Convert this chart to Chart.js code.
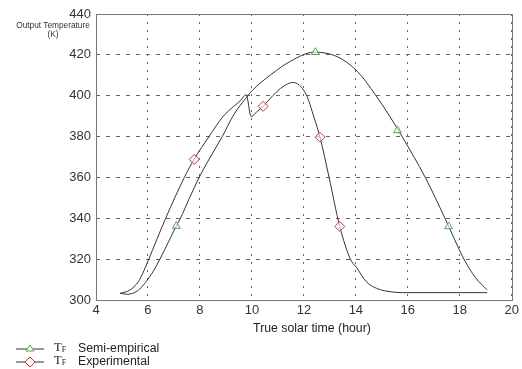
<!DOCTYPE html>
<html>
<head>
<meta charset="utf-8">
<script src="https://cdn.jsdelivr.net/npm/chart.js@4.4.0/dist/chart.umd.min.js"></script>
<style>
  body { margin: 0; background: #fff; }
  #wrap { position: relative; width: 522px; height: 369px; font-family: "Liberation Sans", Arial, sans-serif; }
  #yTitle { position: absolute; left: 8px; top: 21px; width: 90px; text-align: center; font-size: 8.3px; line-height: 9px; color: #333; }
  #xTitle { position: absolute; left: 200px; top: 321px; width: 224px; text-align: center; font-size: 12.3px; color: #222; }
  #legend { position: absolute; left: 16px; top: 341px; font-size: 12.3px; color: #222; }
  .row { height: 13px; display: flex; align-items: center; }
  .tf { font-family: "Liberation Serif", "DejaVu Serif", serif; font-size: 12.5px; margin-left: 10px; width: 24px; }
  .tf sub { font-size: 8px; vertical-align: -1px; }
</style>
</head>
<body>
<div id="wrap">
  <canvas id="tempChart" width="522" height="340"></canvas>
  <div id="yTitle">Output Temperature<br>(K)</div>
  <div id="xTitle">True solar time (hour)</div>
  <div id="legend">
    <div class="row">
      <svg width="28" height="10"><line x1="0" y1="6" x2="28" y2="6" stroke="#333" stroke-width="1"/><polygon points="14,2 18,8 10,8" fill="#fff" stroke="#4fa34f" stroke-width="1"/></svg>
      <span class="tf">T<sub>F</sub></span><span>Semi-empirical</span>
    </div>
    <div class="row">
      <svg width="28" height="12"><line x1="0" y1="7" x2="28" y2="7" stroke="#333" stroke-width="1"/><polygon points="14,2 19,7 14,12 9,7" fill="#fff" stroke="#cc3333" stroke-width="1"/></svg>
      <span class="tf">T<sub>F</sub></span><span>Experimental</span>
    </div>
  </div>
</div>
<script>
// Curva semi-empírica (línea)
const semiX = [4.93, 5.2, 5.6, 5.9, 6.2, 6.46, 7.09, 7.25, 7.6, 7.97, 8.4, 8.86, 9.3, 9.78, 10.0, 10.76, 11.5, 12.4, 13.3, 14.05, 14.75, 15.3, 15.78, 16.67, 17.43, 18.16, 18.6, 19.05];
const semiY = [303.3, 302.8, 304.5, 308.5, 314, 320, 336.2, 340, 350, 360, 370, 380, 390.7, 399, 402.4, 410.6, 417, 421.3, 419, 412, 400.5, 390, 380, 360, 340, 320, 311, 305];

// Curva experimental (línea)
const expX = [4.93, 5.3, 5.63, 5.85, 6.0, 6.68, 7.4, 7.78, 8.35, 8.9, 9.3, 9.55, 9.78, 9.97, 10.2, 10.43, 10.8, 11.2, 11.57, 12.08, 12.4, 12.62, 12.97, 13.38, 13.79, 14.02, 14.4, 14.8, 15.2, 15.8, 19.05];
const expY = [303.3, 304.8, 309, 314.5, 319, 340, 360, 369, 380, 390, 394.8, 397.5, 400.5, 389.8, 392.3, 394.8, 400, 404.5, 406.5, 400.8, 389, 379.7, 360, 336, 320, 316, 309, 305.7, 304.3, 303.6, 303.6];

// Marcadores
const semiMarkX = [7.09, 12.44, 15.6, 17.57];
const semiMarkY = [336.2, 421.3, 383, 336];
const expMarkX = [7.78, 10.43, 12.62, 13.38];
const expMarkY = [368.8, 394.8, 379.7, 336];

// Ejes
const xTicks = [4, 6, 8, 10, 12, 14, 16, 18, 20];
const yTicks = [300, 320, 340, 360, 380, 400, 420, 440];

function toPoints(xs, ys) {
    return xs.map((x, i) => ({ x: x, y: ys[i] }));
}

// Marco alrededor del área del gráfico
const framePlugin = {
    id: 'frame',
    afterDraw(chart) {
        const a = chart.chartArea;
        const ctx = chart.ctx;
        ctx.save();
        ctx.strokeStyle = '#777';
        ctx.lineWidth = 1;
        ctx.strokeRect(Math.round(a.left) + 0.5, Math.round(a.top) + 0.5, Math.round(a.right - a.left), Math.round(a.bottom - a.top));
        ctx.restore();
    }
};

const gridColor = '#666';

new Chart(document.getElementById('tempChart'), {
    type: 'line',
    data: {
        datasets: [
            {
                label: 'TF Semi-empirical markers',
                data: toPoints(semiMarkX, semiMarkY),
                showLine: false,
                pointStyle: 'triangle',
                pointRadius: 4.5,
                borderWidth: 1,
                pointBorderColor: '#4fa34f',
                pointBackgroundColor: 'rgba(255,255,255,0.6)',
                order: 0
            },
            {
                label: 'TF Experimental markers',
                data: toPoints(expMarkX, expMarkY),
                showLine: false,
                pointStyle: 'rectRot',
                pointRadius: 5,
                borderWidth: 1,
                pointBorderColor: '#cc3333',
                pointBackgroundColor: 'rgba(255,255,255,0.6)',
                order: 0
            },
            {
                label: 'TF Semi-empirical',
                data: toPoints(semiX, semiY),
                borderColor: '#333',
                borderWidth: 1,
                pointRadius: 0,
                cubicInterpolationMode: 'monotone',
                order: 1
            },
            {
                label: 'TF Experimental',
                data: toPoints(expX, expY),
                borderColor: '#333',
                borderWidth: 1,
                pointRadius: 0,
                cubicInterpolationMode: 'monotone',
                order: 1
            }
        ]
    },
    options: {
        responsive: false,
        animation: false,
        layout: { autoPadding: false, padding: { left: 0, right: 6, top: 14, bottom: 0 } },
        plugins: {
            legend: { display: false },
            tooltip: { enabled: false }
        },
        scales: {
            x: {
                type: 'linear',
                min: xTicks[0],
                max: xTicks[xTicks.length - 1],
                afterBuildTicks: (s) => { s.ticks = xTicks.map(v => ({ value: v })); },
                afterFit: (s) => { s.height = 40; },
                ticks: { color: '#333', font: { size: 13, family: 'Liberation Sans' }, padding: 3, maxRotation: 0 },
                grid: { color: gridColor, drawTicks: false },
                border: { display: false, dash: [2, 6] }
            },
            y: {
                type: 'linear',
                min: yTicks[0],
                max: yTicks[yTicks.length - 1],
                afterBuildTicks: (s) => { s.ticks = yTicks.map(v => ({ value: v })); },
                afterFit: (s) => { s.width = 96; },
                ticks: { color: '#333', font: { size: 13, family: 'Liberation Sans' }, padding: 5 },
                grid: { color: gridColor, drawTicks: false },
                border: { display: false, dash: [4, 6] }
            }
        }
    },
    plugins: [framePlugin]
});
</script>
</body>
</html>
